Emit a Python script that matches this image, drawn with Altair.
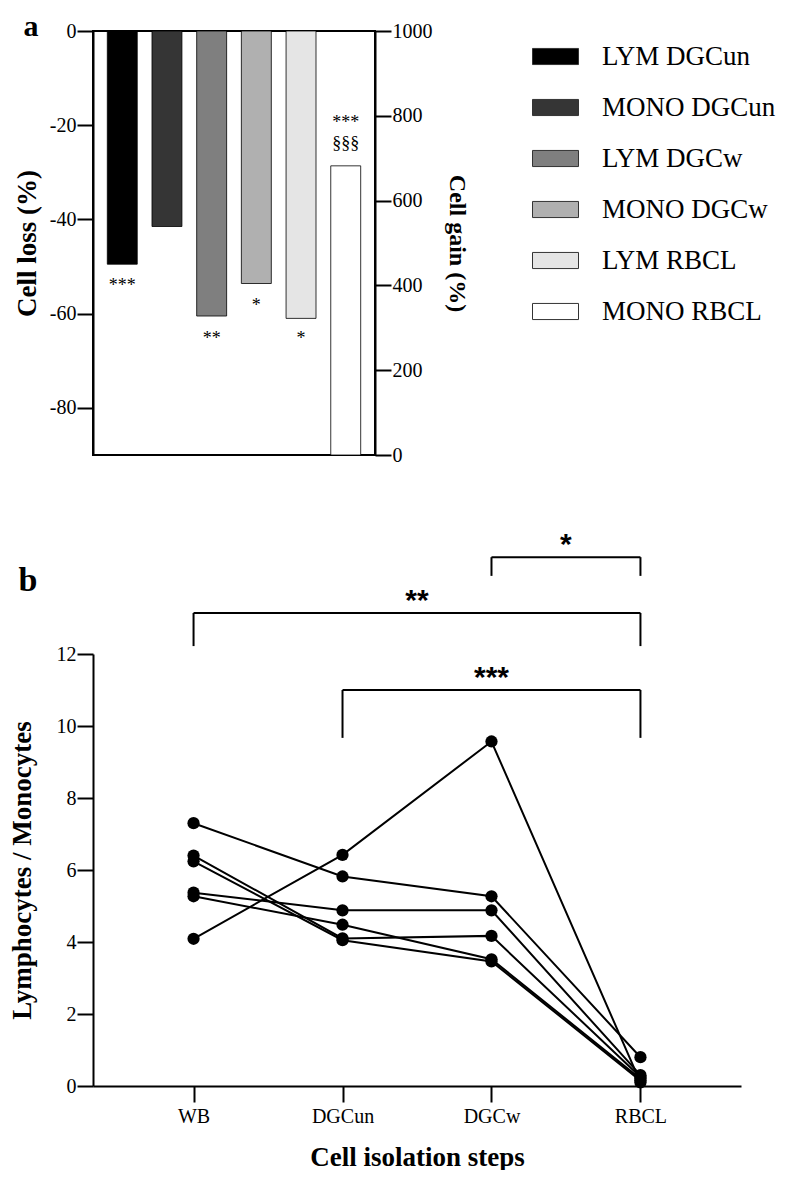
import json
import altair as alt
import pandas as pd

# ---------------- Panel a data ----------------
categories = ["LYM DGCun", "MONO DGCun", "LYM DGCw", "MONO DGCw", "LYM RBCL", "MONO RBCL"]
fill_colors = ["#000000", "#353535", "#7f7f7f", "#b0b0b0", "#e5e5e5", "#ffffff"]

loss_categories = ["LYM DGCun", "MONO DGCun", "LYM DGCw", "MONO DGCw", "LYM RBCL"]
loss_values = [-49.5, -41.5, -60.5, -53.6, -61.0]

gain_categories = ["MONO RBCL"]
gain_values = [682]

loss_sig_categories = ["LYM DGCun", "LYM DGCw", "MONO DGCw", "LYM RBCL"]
loss_sig_text = ["***", "**", "*", "*"]
loss_sig_y = [-55.2, -66.4, -59.4, -66.4]

gain_sig_categories = ["MONO RBCL", "MONO RBCL"]
gain_sig_text = ["***", "§§§"]
gain_sig_y = [771, 722]

loss_ticks = [0, -20, -40, -60, -80]
gain_ticks = [0, 200, 400, 600, 800, 1000]

# ---------------- Panel b data ----------------
steps = ["WB", "DGCun", "DGCw", "RBCL"]
donor_1 = [7.30, 5.82, 5.27, 0.80]
donor_2 = [4.09, 6.42, 9.57, 0.10]
donor_3 = [6.40, 4.10, 4.17, 0.25]
donor_4 = [6.24, 4.05, 3.46, 0.15]
donor_5 = [5.37, 4.88, 4.88, 0.30]
donor_6 = [5.27, 4.48, 3.52, 0.20]
donors = [donor_1, donor_2, donor_3, donor_4, donor_5, donor_6]

bracket_left = ["DGCw", "WB", "DGCun"]
bracket_right = ["RBCL", "RBCL", "RBCL"]
bracket_top = [14.69, 13.14, 11.0]
bracket_drop = [14.17, 12.22, 9.67]
bracket_text = ["*", "**", "***"]

ratio_ticks = [0, 2, 4, 6, 8, 10, 12]

SERIF = "Liberation Serif"

# ---------------- Panel a ----------------
loss_df = pd.DataFrame({"category": loss_categories, "value": loss_values})
gain_df = pd.DataFrame({"category": gain_categories, "value": gain_values})
loss_sig_df = pd.DataFrame({"category": loss_sig_categories, "text": loss_sig_text, "y": loss_sig_y})
gain_sig_df = pd.DataFrame({"category": gain_sig_categories, "text": gain_sig_text, "y": gain_sig_y})

x_enc = alt.X("category:N", sort=categories,
              scale=alt.Scale(domain=categories, paddingInner=0.33, paddingOuter=0.32),
              axis=None)
fill_enc = alt.Fill("category:N",
                    scale=alt.Scale(domain=categories, range=fill_colors),
                    legend=alt.Legend(
                        orient="none", legendX=439, legendY=2, title=None,
                        labelFont=SERIF, labelFontSize=27, labelColor="black",
                        labelLimit=400, labelOffset=23,
                        symbolType="M-1,-0.35L1,-0.35L1,0.35L-1,0.35Z",
                        symbolSize=2116, symbolStrokeColor="#333333",
                        symbolStrokeWidth=1, symbolOpacity=1, rowPadding=14,
                        padding=0))

loss_axis = alt.Axis(values=loss_ticks, labelExpr="'' + datum.value", orient="left",
                     title="Cell loss (%)", titleFontSize=27, titleFontWeight="bold",
                     titleFont=SERIF, titlePadding=8, labelFontSize=20, labelFont=SERIF,
                     tickSize=16, labelPadding=1, grid=False)
gain_axis = alt.Axis(values=gain_ticks, labelExpr="'' + datum.value", orient="right",
                     title="Cell gain (%)", titleFontSize=24, titleFontWeight="bold",
                     titleFont=SERIF, titlePadding=12, labelFontSize=20, labelFont=SERIF,
                     tickSize=16, labelPadding=1, grid=False)

loss_bars = alt.Chart(loss_df).mark_bar(stroke="black", strokeWidth=0.8).encode(
    x=x_enc,
    y=alt.Y("value:Q", scale=alt.Scale(domain=[-90, 0], nice=False), axis=loss_axis),
    fill=fill_enc,
)
loss_sig = alt.Chart(loss_sig_df).mark_text(font=SERIF, fontSize=18, baseline="alphabetic",
                                            color="black").encode(
    x=x_enc, y=alt.Y("y:Q"), text="text:N")

gain_bars = alt.Chart(gain_df).mark_bar(stroke="black", strokeWidth=0.8).encode(
    x=x_enc,
    y=alt.Y("value:Q", scale=alt.Scale(domain=[0, 1000], nice=False), axis=gain_axis),
    fill=fill_enc,
)
gain_sig = alt.Chart(gain_sig_df).mark_text(font=SERIF, fontSize=18, baseline="alphabetic",
                                            color="black").encode(
    x=x_enc, y=alt.Y("y:Q"), text="text:N")

label_a = alt.Chart(pd.DataFrame({"t": ["a"]})).mark_text(
    font=SERIF, fontSize=30, fontWeight="bold", align="center", baseline="alphabetic",
    color="black").encode(x=alt.value(-62), y=alt.value(5), text="t:N")

left_layer = alt.layer(loss_bars, loss_sig, label_a)
right_layer = alt.layer(gain_bars, gain_sig)

panel_a = alt.layer(left_layer, right_layer).resolve_scale(y="independent").properties(
    width=282, height=424,
    view=alt.ViewBackground(stroke="black", strokeWidth=2),
)

# ---------------- Panel b ----------------
rows = []
for d, vals in enumerate(donors):
    for i, s in enumerate(steps):
        rows.append({"donor": d + 1, "step": s, "idx": i, "value": vals[i]})
ratio_df = pd.DataFrame(rows)

br_df = pd.DataFrame({
    "left": [steps.index(s) for s in bracket_left],
    "right": [steps.index(s) for s in bracket_right],
    "top": bracket_top,
    "drop": bracket_drop,
    "text": bracket_text,
})
br_df["mid"] = (br_df["left"] + br_df["right"]) / 2

x_scale_b = alt.Scale(domain=[-0.675, len(steps) - 1 + 0.675], nice=False, zero=False)
y_scale_b = alt.Scale(domain=[0, 12], nice=False)
label_expr = json.dumps(steps) + "[datum.value]"

x_axis_b = alt.Axis(values=list(range(len(steps))), labelExpr=label_expr,
                    title="Cell isolation steps", titleFont=SERIF, titleFontSize=27,
                    titleFontWeight="bold", titlePadding=18, labelFont=SERIF,
                    labelFontSize=20, tickSize=16, labelPadding=4, grid=False)
y_axis_b = alt.Axis(values=ratio_ticks, title="Lymphocytes / Monocytes", titleFont=SERIF,
                    titleFontSize=27, titleFontWeight="bold", titlePadding=20,
                    labelFont=SERIF, labelFontSize=20, tickSize=16, labelPadding=1,
                    grid=False)

base_b = alt.Chart(ratio_df).encode(
    x=alt.X("idx:Q", scale=x_scale_b, axis=x_axis_b),
    y=alt.Y("value:Q", scale=y_scale_b, axis=y_axis_b),
    detail="donor:N",
)
lines_b = base_b.mark_line(color="black", strokeWidth=2)
points_b = base_b.mark_circle(color="black", size=150, opacity=1)

br_base = alt.Chart(br_df)
br_h = br_base.mark_rule(color="black", strokeWidth=2).encode(
    x=alt.X("left:Q", scale=x_scale_b), x2="right:Q", y=alt.Y("top:Q", scale=y_scale_b))
br_l = br_base.mark_rule(color="black", strokeWidth=2).encode(
    x=alt.X("left:Q", scale=x_scale_b), y=alt.Y("drop:Q", scale=y_scale_b), y2="top:Q")
br_r = br_base.mark_rule(color="black", strokeWidth=2).encode(
    x=alt.X("right:Q", scale=x_scale_b), y=alt.Y("drop:Q", scale=y_scale_b), y2="top:Q")
br_t = br_base.mark_text(font="Liberation Sans", fontSize=30, fontWeight="bold",
                         baseline="alphabetic", dy=-3, color="black").encode(
    x=alt.X("mid:Q", scale=x_scale_b), y=alt.Y("top:Q", scale=y_scale_b), text="text:N")

label_b = alt.Chart(pd.DataFrame({"t": ["b"]})).mark_text(
    font=SERIF, fontSize=34, fontWeight="bold", align="center", baseline="alphabetic",
    color="black").encode(x=alt.value(-65), y=alt.value(-63), text="t:N")

panel_b = alt.layer(lines_b, points_b, br_h, br_l, br_r, br_t, label_b).properties(
    width=648, height=432)

chart = alt.vconcat(panel_a, panel_b, spacing=199, bounds="flush").resolve_scale(
    fill="independent").resolve_legend(fill="independent").properties(
    padding={"top": 3, "left": 0, "right": 0, "bottom": 0}).configure(
    font=SERIF).configure_view(strokeWidth=0).configure_axis(
    domainColor="black", tickColor="black", labelColor="black", titleColor="black",
    domainWidth=2, tickWidth=2)

chart.save("out.html", embed_options={"renderer": "svg", "actions": False})
